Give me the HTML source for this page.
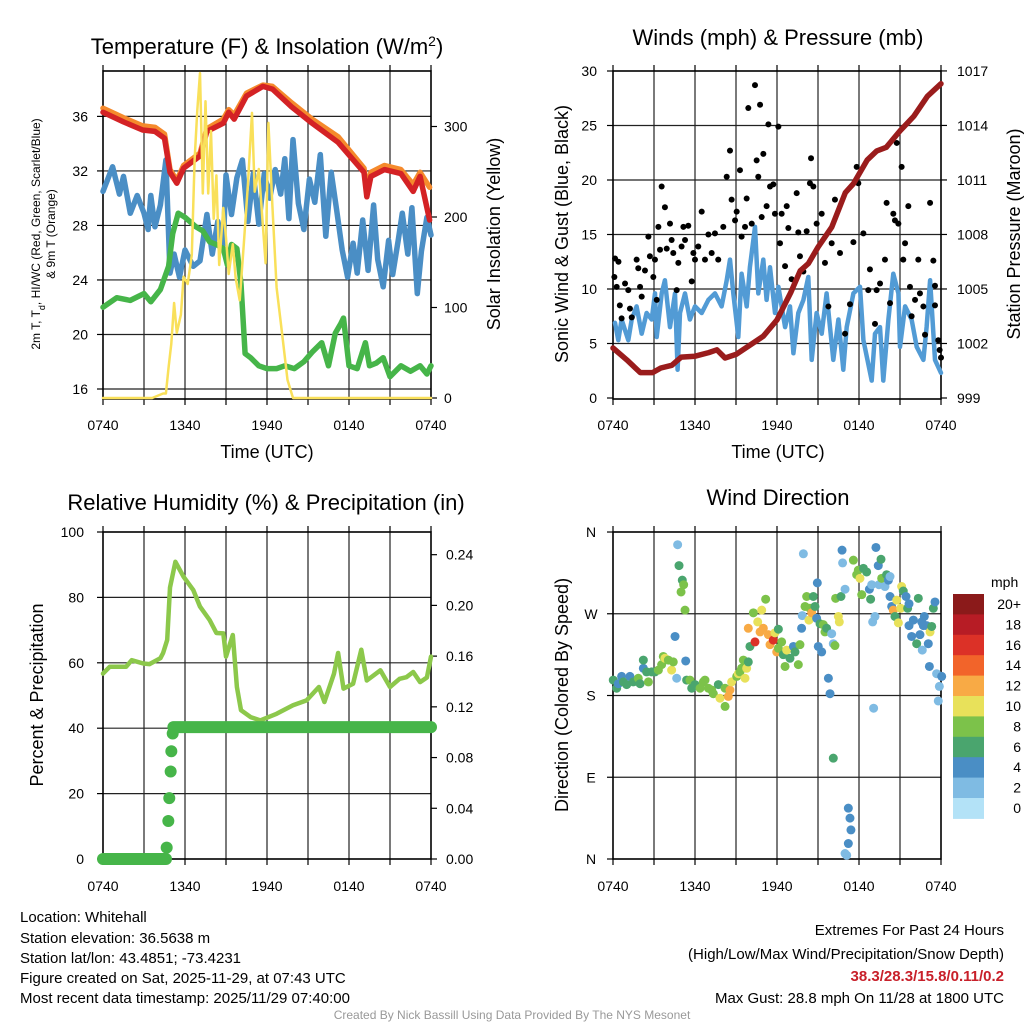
<!DOCTYPE html>
<html><head><meta charset="utf-8">
<style>
html,body{margin:0;padding:0;background:#fff;}
svg{display:block;font-family:"Liberation Sans",sans-serif;}
</style></head>
<body>
<svg id="c" width="1024" height="1024" viewBox="0 0 1024 1024">
<rect width="1024" height="1024" fill="#fff"/>
<g id="g"></g>
<text x="267" y="54" font-size="22" text-anchor="middle">Temperature (F) &amp; Insolation (W/m<tspan baseline-shift="super" font-size="14">2</tspan>)</text>
<text x="778" y="45" font-size="22" text-anchor="middle">Winds (mph) &amp; Pressure (mb)</text>
<text x="266" y="510" font-size="22" text-anchor="middle">Relative Humidity (%) &amp; Precipitation (in)</text>
<text x="778" y="505" font-size="22" text-anchor="middle">Wind Direction</text>
<text x="267" y="458" font-size="18" text-anchor="middle">Time (UTC)</text>
<text x="778" y="458" font-size="18" text-anchor="middle">Time (UTC)</text>
<text transform="translate(40,234) rotate(-90)" font-size="12" text-anchor="middle">2m T, T<tspan baseline-shift="sub" font-size="9">d</tspan>, HI/WC (Red, Green, Scarlet/Blue)</text>
<text transform="translate(55,234) rotate(-90)" font-size="12" text-anchor="middle">&amp; 9m T (Orange)</text>
<text transform="translate(500,234) rotate(-90)" font-size="18" text-anchor="middle">Solar Insolation (Yellow)</text>
<text transform="translate(568,234) rotate(-90)" font-size="18" text-anchor="middle">Sonic Wind &amp; Gust (Blue, Black)</text>
<text transform="translate(1020,234) rotate(-90)" font-size="18" text-anchor="middle">Station Pressure (Maroon)</text>
<text transform="translate(43,695) rotate(-90)" font-size="18" text-anchor="middle">Percent &amp; Precipitation</text>
<text transform="translate(568,695) rotate(-90)" font-size="18" text-anchor="middle">Direction (Colored By Speed)</text>
<g font-size="15">
<text x="20" y="922">Location: Whitehall</text>
<text x="20" y="943">Station elevation: 36.5638 m</text>
<text x="20" y="963">Station lat/lon: 43.4851; -73.4231</text>
<text x="20" y="983">Figure created on Sat, 2025-11-29, at 07:43 UTC</text>
<text x="20" y="1003">Most recent data timestamp: 2025/11/29 07:40:00</text>
</g>
<g font-size="15" text-anchor="end">
<text x="1004" y="935">Extremes For Past 24 Hours</text>
<text x="1004" y="959">(High/Low/Max Wind/Precipitation/Snow Depth)</text>
<text x="1004" y="981" fill="#c8202a" font-weight="bold">38.3/28.3/15.8/0.11/0.2</text>
<text x="1004" y="1003">Max Gust: 28.8 mph On 11/28 at 1800 UTC</text>
</g>
<text x="512" y="1019" font-size="12" fill="#999" text-anchor="middle">Created By Nick Bassill Using Data Provided By The NYS Mesonet</text>
</svg>
<script>
// ---- data ----
const timeTicks = ["0740","1340","1940","0140","0740"];
const tempTicks = [16,20,24,28,32,36];
const solarTicks = [0,100,200,300];
const windTicks = [0,5,10,15,20,25,30];
const presTicks = [999,1002,1005,1008,1011,1014,1017];
const rhTicks = [0,20,40,60,80,100];
const precipTicks = ["0.00","0.04","0.08","0.12","0.16","0.20","0.24"];
const dirTicks = ["N","E","S","W","N"];
const speedBins = ["0","2","4","6","8","10","12","14","16","18","20+"];

const redH = [0,1.5,2.9,3.8,4.5,4.9,5.4,5.9,7.1,7.6,8.8,9.2,9.6,10.5,11.7,12.4,13.8,15.3,17.2,19.1,19.3,19.6,20.6,21.8,22.7,23.2,23.9];
const redT = [36.3,35.6,35.0,34.9,34.4,31.9,31.1,32.2,33.1,34.9,35.5,36.3,35.8,37.5,38.2,38.0,36.7,35.5,34.1,31.9,30.1,31.6,32.1,31.8,30.5,31.6,28.4];
const orangeT = [36.6,35.9,35.3,35.2,34.7,32.1,31.3,32.4,33.3,35.1,35.8,36.5,36.1,37.7,38.3,38.2,37.0,35.8,34.5,32.2,30.6,31.9,32.4,32.1,31.0,31.9,30.8];
const blueH = [0,0.7,1.2,1.5,2.0,2.5,3.0,3.3,3.5,3.8,4.2,4.6,4.9,5.2,5.6,6.0,6.6,7.1,7.6,8.0,8.4,8.8,9.0,9.4,9.8,10.2,10.6,11.0,11.4,11.8,12.2,12.6,13.0,13.3,13.6,13.9,14.3,14.7,15.1,15.5,15.9,16.3,16.7,17.1,17.5,17.9,18.3,18.6,19.0,19.4,19.8,20.1,20.5,20.9,21.2,21.6,21.9,22.3,22.6,23.0,23.3,23.7,24.0];
const blueT = [30.5,32.3,30.3,31.6,28.9,30.2,28.9,27.7,30.2,27.9,29.5,32.8,24.5,25.9,24.2,26.2,25.0,25.4,28.8,25.9,28.3,26.6,31.7,28.8,31.5,32.8,28.3,31.8,28.1,31.8,30.0,32.1,30.3,32.9,28.5,34.3,29.6,27.7,31.4,29.7,33.2,27.2,31.9,29.1,26.2,24.2,26.7,24.5,28.4,24.7,29.5,25.5,23.5,26.9,24.4,26.9,28.9,25.9,29.3,23.0,26.1,28.6,27.3];
const dewH = [0,1,2,3,3.5,4.2,4.8,5.1,5.5,6,6.8,7.3,7.8,8.3,8.8,9.1,9.4,9.8,10.1,10.4,10.8,11.4,12,12.7,13.3,14,14.7,15.3,16,16.5,17,17.4,17.6,18,18.6,19.2,19.5,20,20.5,21,21.8,22.5,23.2,23.7,24];
const dewT = [22.0,22.7,22.5,23.0,22.4,23.3,25.0,27.4,28.9,28.6,27.9,27.6,26.8,26.6,26.3,25.1,26.6,26.3,23.7,18.6,18.3,17.7,17.5,17.5,17.7,17.5,18.0,18.7,19.4,17.7,20.1,20.8,21.2,17.7,17.5,19.4,17.7,17.9,18.3,16.9,17.7,17.3,17.7,17.1,17.7];
const solarH = [0,3.6,4.4,4.6,4.8,5.0,5.2,5.4,5.7,5.9,6.2,6.5,6.7,6.9,7.1,7.3,7.5,7.7,7.9,8.1,8.3,8.5,8.8,9.0,9.2,9.5,9.7,10.0,10.3,10.6,10.9,11.1,11.4,11.7,11.9,12.1,12.4,12.7,13.1,13.5,13.9,24];
const solarW = [0,0,5,5,34,60,105,72,92,134,126,158,263,318,359,226,328,226,295,198,246,147,210,177,137,170,133,108,170,236,315,228,253,190,149,304,210,122,72,20,0,0];

const presH = [0,1,2,2.9,3.5,4.3,5,6,7,7.6,8.2,9,10,11,12,13,13.7,14.3,15,16,17,17.6,18.6,19.3,20,21,22,23,24];
const presP = [1001.75,1001.1,1000.4,1000.4,1000.65,1000.8,1001.25,1001.3,1001.5,1001.65,1001.2,1001.4,1001.9,1002.4,1003.3,1004.8,1006.0,1006.4,1007.3,1008.4,1010.3,1010.8,1012.1,1012.6,1012.8,1013.7,1014.5,1015.6,1016.3];
const sonicH = [0.15,0.39,0.63,1.12,1.37,1.73,2.1,2.46,2.83,3.07,3.2,3.56,3.8,4.17,4.54,4.73,4.9,5.27,5.63,6.0,6.49,6.98,7.46,7.95,8.32,8.56,8.8,9.17,9.41,9.78,10.02,10.39,10.63,11.0,11.24,11.49,11.85,12.1,12.59,12.95,13.2,13.56,13.93,14.29,14.54,14.9,15.27,15.63,16.12,16.49,16.85,17.1,17.59,18.07,18.32,18.93,19.17,19.54,19.78,20.15,20.51,20.88,21.0,21.37,21.85,22.22,22.71,22.95,23.2,23.56,24];
const sonicV = [6.9,5.3,7.2,5.3,7.2,8.4,5.9,7.8,7.2,9.6,5.6,9.6,10.8,6.5,9.6,2.6,7.8,9.6,7.2,8.4,7.8,9.0,9.6,8.4,10.8,12.7,9.6,5.6,11.4,8.4,12.0,15.7,9.6,12.7,9.0,12.0,7.8,10.2,6.5,8.4,4.1,7.8,9.0,11.1,3.5,7.8,5.9,9.6,3.5,7.2,2.6,6.5,9.6,10.2,5.3,1.6,5.9,6.5,1.6,7.2,11.4,9.6,4.7,8.4,7.2,4.7,3.5,6.5,10.8,3.5,2.3];
const gustH = [0.15,0.4,0.1,0.27,0.5,0.63,0.88,1.12,1.24,1.37,1.73,1.85,1.98,2.1,2.34,2.59,2.7,2.95,3.07,3.2,3.32,3.44,3.56,3.8,3.93,4.17,4.29,4.41,4.66,4.78,5.02,5.15,5.27,5.51,5.76,5.88,6.0,6.24,6.49,6.73,6.98,7.22,7.46,7.7,8.07,8.32,8.56,8.68,8.93,9.05,9.29,9.41,9.66,9.78,9.9,10.15,10.39,10.51,10.63,10.76,10.88,11.0,11.24,11.37,11.49,11.73,11.85,12.1,12.22,12.34,12.59,12.71,12.83,13.07,13.44,13.56,13.68,13.93,14.17,14.41,14.49,14.66,14.9,15.27,15.51,15.76,16.0,16.24,16.61,16.98,17.34,17.59,17.83,17.95,18.32,18.68,18.8,19.17,19.29,19.54,19.9,20.02,20.27,20.51,20.63,20.76,20.88,21.12,21.24,21.37,21.61,21.73,21.85,22.1,22.34,22.46,22.71,22.83,23.2,23.44,23.56,23.56,23.8,23.9,24.0];
const gustV = [12.8,12.5,11.1,10.2,8.5,7.3,10.5,9.9,8.2,7.4,12.7,11.9,10.2,9.3,11.7,14.8,13.0,11.1,12.7,9.0,15.7,13.6,19.4,17.5,13.7,16.0,14.5,13.3,9.9,12.4,13.9,15.7,14.5,15.8,10.7,13.3,12.7,13.9,17.1,12.7,15.0,13.3,15.1,12.7,15.7,20.3,22.7,18.2,16.3,17.1,20.9,14.8,15.7,18.3,26.6,16.0,28.7,21.8,20.3,26.9,16.6,22.4,17.6,25.1,19.4,19.6,16.9,24.9,14.2,16.9,12.1,17.6,15.6,10.9,18.8,15.2,13.0,11.6,15.3,19.7,22.0,19.4,16.0,16.9,12.4,8.4,14.2,18.2,13.3,5.9,8.6,14.3,21.2,19.7,15.1,9.9,11.8,6.8,9.9,10.5,12.7,17.9,8.7,16.9,16.3,23.4,16.0,21.2,12.7,14.2,17.6,10.2,7.5,9.0,12.7,9.6,8.4,5.8,17.9,12.6,10.3,8.5,5.3,4.4,3.7];

const rhH = [0,0.5,1.7,2.1,2.95,3.4,4.2,4.4,4.7,4.9,5.3,5.9,6.6,7.1,7.8,8.3,8.8,9.0,9.5,9.8,10.1,10.8,11.5,12.7,13.9,14.9,15.8,16.2,16.9,17.2,17.6,18.3,18.9,19.3,20.3,21.0,21.7,22.2,22.7,23.2,23.7,24];
const rhV = [56.7,58.8,58.8,60.8,59.8,59.6,61.4,63,67,83,90.9,86.3,82.3,77.2,73.1,69.1,69,61.9,68.5,52.6,45.5,43.4,42.4,44.4,47,48.5,52.6,48,56.7,63,52.1,53.6,64,54.6,57.7,52.6,55.1,55.6,57.2,54.1,55.5,61.9];
const precipH = [4.66,4.78,4.85,4.95,5.0,5.1];
const precipV = [0.009,0.03,0.048,0.069,0.085,0.099];
const precipFinal = 0.104;

const dirH = [0.02,0.27,0.39,0.63,0.76,1.0,1.24,1.49,1.85,1.98,2.22,2.22,2.46,2.59,2.83,3.07,3.32,3.56,3.68,3.8,4.05,4.29,4.41,4.54,4.66,4.73,4.83,5.07,5.17,4.98,5.27,5.32,5.39,5.63,5.76,6.0,6.37,6.61,6.73,6.98,7.22,7.34,7.71,7.83,8.2,8.2,8.44,8.56,8.68,9.05,9.17,9.29,9.41,9.54,9.66,9.78,9.9,9.9,10.02,10.27,10.39,10.59,10.76,10.88,11.0,11.17,11.37,11.49,11.73,11.85,11.98,12.1,12.1,12.34,12.46,12.59,12.71,12.95,13.2,13.32,13.56,13.68,13.8,13.85,13.93,14.05,14.17,14.34,14.41,14.54,14.66,14.78,14.9,14.95,15.02,15.15,15.27,15.39,15.51,15.63,15.76,15.88,16.0,16.12,16.24,16.12,16.29,16.49,16.56,16.68,16.76,16.8,16.98,17.22,17.34,17.41,17.22,16.98,17.1,17.59,17.83,17.95,18.07,18.2,18.32,18.56,18.76,18.85,18.93,19.0,19.17,19.07,19.24,19.41,19.46,19.61,19.66,19.9,20.02,20.15,20.27,20.27,20.39,20.51,20.63,20.76,20.88,21.05,21.12,21.24,21.44,21.56,21.66,21.66,21.85,21.98,22.22,22.34,22.46,22.59,22.71,22.78,22.95,23.07,23.2,23.32,23.44,23.56,23.15,23.68,23.88,23.8,24.05,22.63];
const dirD = [197,188,193,201,195,192,201,195,199,193,210,219,206,195,206,206,208,214,223,221,219,208,217,245,199,346,323,307,302,294,274,218,197,197,188,192,188,195,197,188,186,182,192,177,168,188,179,186,195,201,204,206,210,219,199,210,217,254,234,271,239,261,250,274,254,286,247,236,241,249,228,253,232,239,225,212,230,221,234,228,214,236,254,268,336,278,289,263,276,271,289,278,265,304,234,259,228,258,250,254,199,182,248,237,235,111,287,267,261,289,340,326,297,56,45,32,17,6,4,329,313,318,309,291,320,316,297,286,302,261,267,166,343,323,302,330,309,300,313,307,311,289,278,274,267,285,260,276,300,295,289,276,281,257,245,263,237,287,247,261,257,267,257,237,250,256,276,283,212,204,190,174,201,230];
const dirS = [6,6,4,4,6,6,4,6,8,6,4,6,6,8,6,6,8,8,8,10,8,10,8,4,2,2,6,6,8,8,8,4,6,8,6,6,8,8,8,8,8,8,6,10,8,8,12,12,10,8,10,8,8,8,10,10,6,12,6,8,16,10,12,10,12,8,12,12,16,10,12,6,8,8,6,8,10,6,4,6,8,8,4,2,2,8,8,10,8,12,6,6,4,4,4,6,4,8,8,6,4,4,2,2,8,6,8,10,10,6,4,2,2,4,4,4,4,2,2,8,8,8,10,8,6,6,4,6,2,2,2,2,4,4,2,6,8,2,6,4,2,4,4,12,6,10,10,10,10,6,4,6,4,4,4,4,6,6,4,4,4,4,4,4,10,6,6,4,4,2,2,2,4,2];

// ---- helpers ----
const NS = "http://www.w3.org/2000/svg";
const G = document.getElementById('g');
function mk(tag, attrs, parent){
  const e = document.createElementNS(NS, tag);
  for (const k in attrs) e.setAttribute(k, attrs[k]);
  (parent||G).appendChild(e);
  return e;
}
function panel(x0,y0,w,h){
  return {x0,y0,w,h, x: t => x0 + t/24*w};
}
const P1 = panel(103,71,328,328), P2 = panel(613,71,328,328), P3 = panel(103,532,328,327), P4 = panel(613,532,328,327);

const yTemp = v => 389 - (v-16)*13.63;
const ySolar = v => 398 - v*0.905;
const yWind = v => 398 - v*10.9;
const yPres = v => 398 - (v-999)*18.17;
const yRH = v => 859 - v*3.27;
const yPrecip = v => 859 - v*1268;
const yDir = d => 859 - d*0.9083;

const colorBins = ["#b3e2f7","#7fbbe3","#4a8ec5","#4aa56e","#7cc24a","#e8e15a","#f8aa45","#f2642a","#dc3127","#b71c25","#8b1a1a"];
function speedColor(s){ return colorBins[Math.min(10, Math.max(0, Math.round(s/2)))]; }

function drawFrame(P, hLines, name){
  const g = mk('g', {});
  
  
  for (let i=1;i<8;i++){
    const x = P.x0 + i*P.w/8;
    mk('line',{x1:x,x2:x,y1:P.y0,y2:P.y0+P.h,stroke:'#222','stroke-width':1.2},g);
  }
  hLines.forEach(y => mk('line',{x1:P.x0,x2:P.x0+P.w,y1:y,y2:y,stroke:'#222','stroke-width':1.2},g));
  const b = mk('rect',{x:P.x0,y:P.y0,width:P.w,height:P.h,fill:'none',stroke:'#000','stroke-width':1.6});
  
  
  for (let i=0;i<=8;i++){
    const x = P.x0 + i*P.w/8;
    mk('line',{x1:x,x2:x,y1:P.y0+P.h,y2:P.y0+P.h+6,stroke:'#000','stroke-width':1.2},g);
    mk('line',{x1:x,x2:x,y1:P.y0,y2:P.y0-6,stroke:'#000','stroke-width':1.2},g);
  }
}
function xLabels(P, y, name){
  timeTicks.forEach((t,i)=>{
    const e = mk('text',{x:P.x0+i*P.w/4,y:y,'font-size':14,'text-anchor':'middle'});
    e.textContent = t;
    
    
  });
}
function yLabel(x, y, txt, anchor, name){
  const e = mk('text',{x:x,y:y+5,'font-size':14,'text-anchor':anchor});
  e.textContent = txt;
  
  
  return e;
}
function tick(x,y,len){ mk('line',{x1:x,x2:x+len,y1:y,y2:y,stroke:'#000','stroke-width':1.2}); }
function path(H, V, fx, fy, color, width, name){
  let d = '';
  H.forEach((h,i)=>{ d += (i?'L':'M') + fx(h).toFixed(1) + ' ' + fy(V[i]).toFixed(1); });
  const e = mk('path',{d:d,fill:'none',stroke:color,'stroke-width':width,'stroke-linejoin':'round','stroke-linecap':'round'});
  
  
  return e;
}

// ---- Panel 1 ----
drawFrame(P1, tempTicks.map(yTemp), 'temp');
tempTicks.forEach(v=>{ tick(P1.x0,yTemp(v),-6); yLabel(88,yTemp(v),String(v),'end','temp-y-tick-label'); });
solarTicks.forEach(v=>{ tick(P1.x0+P1.w,ySolar(v),6); yLabel(444,ySolar(v),String(v),'start','solar-y-tick-label'); });
xLabels(P1, 430, 'temp');
path(blueH, blueT, P1.x, yTemp, '#4a8ec5', 5.5, 'heat-index-line');
path(dewH, dewT, P1.x, yTemp, '#46b549', 5.5, 'dewpoint-line');
path(redH, orangeT, P1.x, yTemp, '#f58a2c', 5.5, 'temp-9m-line');
path(redH, redT, P1.x, yTemp, '#d42225', 5.5, 'temp-2m-line');
path(solarH, solarW, P1.x, ySolar, '#f9e05a', 2.5, 'insolation-line');

// ---- Panel 2 ----
drawFrame(P2, windTicks.slice(1,-1).map(yWind), 'wind');
windTicks.forEach(v=>{ tick(P2.x0,yWind(v),-6); yLabel(597,yWind(v),String(v),'end','wind-y-tick-label'); });
presTicks.forEach(v=>{ tick(P2.x0+P2.w,yPres(v),6); yLabel(957,yPres(v),String(v),'start','pressure-y-tick-label'); });
xLabels(P2, 430, 'wind');
path(sonicH, sonicV, P2.x, yWind, '#529bd5', 4.5, 'sonic-wind-line');
gustH.forEach((h,i)=>{
  const c = mk('circle',{cx:P2.x(h),cy:yWind(gustV[i]),r:3,fill:'#000'});
  
  
});
path(presH, presP, P2.x, yPres, '#9a1c1c', 5.5, 'pressure-line');

// ---- Panel 3 ----
drawFrame(P3, rhTicks.slice(1,-1).map(yRH), 'rh');
rhTicks.forEach(v=>{ tick(P3.x0,yRH(v),-6); yLabel(84,yRH(v),String(v),'end','rh-y-tick-label'); });
precipTicks.forEach(v=>{ tick(P3.x0+P3.w,yPrecip(parseFloat(v)),6); yLabel(446,yPrecip(parseFloat(v)),v,'start','precip-y-tick-label'); });
xLabels(P3, 891, 'rh');
path(rhH, rhV, P3.x, yRH, '#8cc84b', 4.5, 'rh-line');
(function(){
  const zeroEnd = precipH[0]-0.05, pg = mk('g',{});
  
  
  mk('line',{x1:P3.x(0),x2:P3.x(zeroEnd),y1:yPrecip(0),y2:yPrecip(0),stroke:'#46b549','stroke-width':12,'stroke-linecap':'round'},pg);
  precipH.forEach((h,i)=>{
    const c = mk('circle',{cx:P3.x(h),cy:yPrecip(precipV[i]),r:6,fill:'#46b549'},pg);
    
    
  });
  const startH = precipH[precipH.length-1]+0.05;
  mk('line',{x1:P3.x(startH),x2:P3.x(24),y1:yPrecip(precipFinal),y2:yPrecip(precipFinal),stroke:'#46b549','stroke-width':12,'stroke-linecap':'round'},pg);
})();

// ---- Panel 4 ----
drawFrame(P4, [90,180,270].map(yDir), 'direction');
dirTicks.forEach((t,i)=>{ tick(P4.x0,yDir(i*90),-6); yLabel(591,yDir(i*90),t,'middle','direction-y-tick-label'); });
xLabels(P4, 891, 'direction');
dirH.forEach((h,i)=>{
  const c = mk('circle',{cx:P4.x(h),cy:yDir(dirD[i]),r:4.5,fill:speedColor(dirS[i])});
  
  
});
(function(){
  const cb = mk('g',{});
  
  
  const top = 594, bh = 20.4;
  const u = mk('text',{x:991,y:587,'font-size':14},cb); u.textContent='mph';
  speedBins.forEach((lab,i)=>{
    const k = 10-i;
    mk('rect',{x:953,y:top+i*bh,width:31,height:bh+0.5,fill:colorBins[k]},cb);
    const t = mk('text',{x:1021,y:top+i*bh+15,'font-size':14,'text-anchor':'end'},cb);
    t.textContent = speedBins[k];
    
    
  });
})();
</script>
</body></html>
